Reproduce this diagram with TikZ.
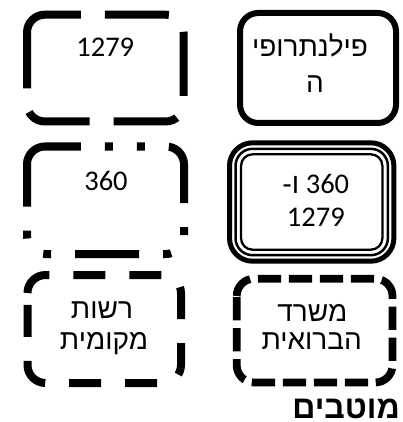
\documentclass[tikz,border=0pt]{standalone}
\usepackage{fontspec}
\setmainfont{Carlito}
\newfontfamily\heb[Script=Hebrew]{Liberation Sans}
\usetikzlibrary{calc}
\TeXXeTstate=1
% border path of a node, started on the left edge below the top-left corner, clockwise
\newcommand\rrpath[3]{%
  \draw[#3, rounded corners=#2pt] ($(#1.north west)+(0,#2)$) -- (#1.north west) -- (#1.north east) -- (#1.south east) -- (#1.south west) -- ($(#1.north west)+(0,#2)$);}
\tikzset{
  boxn/.style={shape=rectangle, inner sep=0pt, outer sep=0pt},
  lbl/.style={inner sep=0pt, anchor=base, font=\fontsize{28.5}{33}\selectfont},
  hlbl/.style={inner sep=0pt, anchor=base, font=\heb\fontsize{28}{33}\selectfont},
  lgdash/.style={line width=8pt, dash pattern=on 64pt off 24pt},
  lgdashdotdot/.style={line width=8pt, dash pattern=on 64pt off 24pt on 8pt off 24pt on 8pt off 24pt},
  mdash/.style={line width=8pt, dash pattern=on 32pt off 24pt},
  sysdash/.style={line width=7.75pt, dash pattern=on 23.25pt off 7.75pt},
}
\begin{document}
\begin{tikzpicture}[x=1pt,y=-1pt]
\useasboundingbox (0,0) rectangle (403,422);
% boxes
\node[boxn, minimum width=156.5pt, minimum height=106.8pt] (b1) at (105.25,68.1) {};
\node[boxn, minimum width=156pt, minimum height=110pt] (b2) at (318,68) {};
\node[boxn, minimum width=157pt, minimum height=107.5pt] (b3) at (105.5,200.25) {};
\node[boxn, minimum width=154.4pt, minimum height=108.4pt] (b4) at (311.7,202) {};
\node[boxn, minimum width=153.5pt, minimum height=108pt] (b5) at (104.25,329) {};
\node[boxn, minimum width=155.8pt, minimum height=103.8pt] (b6) at (314.6,330.6) {};
% borders
\rrpath{b1}{17.8}{lgdash}
\draw[line width=6pt, rounded corners=18.3pt] (b2.north west) rectangle (b2.south east);
\rrpath{b3}{17.9}{lgdashdotdot}
\draw[line width=5pt, rounded corners=23.1pt] ([shift={(-5pt,5pt)}]b4.north west) rectangle ([shift={(5pt,-5pt)}]b4.south east);
\draw[line width=2.5pt, rounded corners=17.1pt] ([shift={(1pt,-1pt)}]b4.north west) rectangle ([shift={(-1pt,1pt)}]b4.south east);
\draw[line width=2.3pt, rounded corners=11.6pt] ([shift={(6.5pt,-6.5pt)}]b4.north west) rectangle ([shift={(-6.5pt,6.5pt)}]b4.south east);
\rrpath{b5}{18}{mdash}
\rrpath{b6}{17.3}{sysdash}
% texts
\node[lbl] (t1) at (105.25,57) {1279};
\node[hlbl] (t2a) at (310,57) {\beginR פילנתרופי\endR};
\node[hlbl] (t2b) at (315,93) {\beginR ה\endR};
\node[lbl] (t3) at (106,190) {360};
\node[lbl] (t4a) at (315.8,193.3) {\beginR\beginL 360\endL{} {\heb ו-}\endR};
\node[lbl] (t4b) at (315.8,226.7) {1279};
\node[hlbl] (t5a) at (102,318.3) {\beginR רשות\endR};
\node[hlbl] (t5b) at (104,349) {\beginR מקומית\endR};
\node[hlbl] (t6a) at (312.3,321.7) {\beginR משרד\endR};
\node[hlbl] (t6b) at (311.7,349) {\beginR הברואית\endR};
\node[inner sep=0pt, anchor=base east, text depth=0pt, font=\heb\bfseries\fontsize{32}{36}\selectfont] (title) at (400,418.5) {\beginR מוטבים\endR};
\end{tikzpicture}
\end{document}
